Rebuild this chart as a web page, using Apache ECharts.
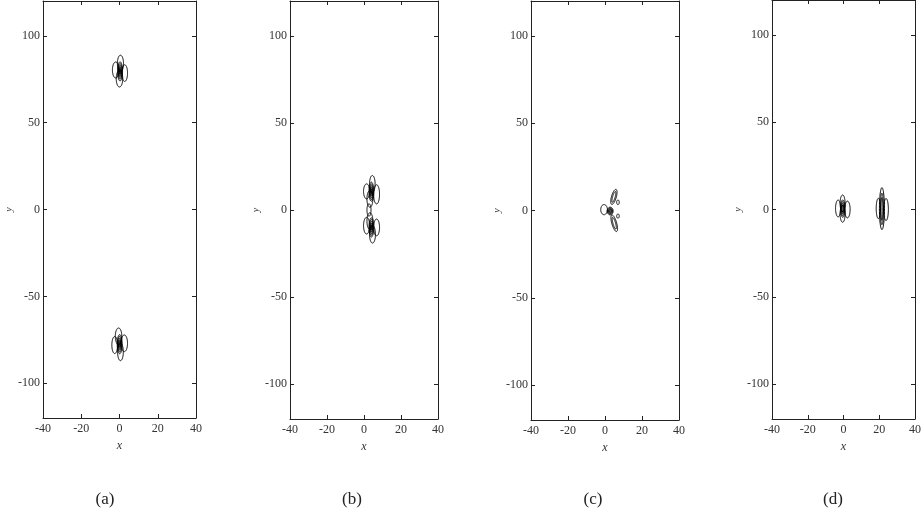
<!DOCTYPE html>
<html><head><meta charset="utf-8">
<script src="https://cdn.jsdelivr.net/npm/echarts@6/dist/echarts.min.js"></script>
<style>html,body{margin:0;padding:0;background:#fff}#c{width:924px;height:517px}</style>
</head><body><div id="c"></div><script>
// Axis ticks
const xTicks = [-40, -20, 0, 20, 40];
const yTicks = [-100, -50, 0, 50, 100];
const panelLabels = ['(a)', '(b)', '(c)', '(d)'];

// Contour curves, each as an ellipse: [cx, cy, rx, ry, tiltDeg]
const ellipsesA = [
  [0.5, 84, 1.6, 4.8, 0], [-2, 80.3, 1.7, 4.6, 0], [2.7, 78.5, 1.5, 4.8, 0], [0, 75.3, 1.7, 4.8, 0],
  [0.3, 79.5, 1.3, 5.5, 0], [0.3, 79.5, 1.0, 4.5, 0], [0.3, 79.5, 0.7, 3.5, 0], [0.3, 79.5, 0.45, 2.5, 0], [0.3, 79.5, 0.25, 1.5, 0],
  [-0.5, -73, 1.7, 4.8, 0], [-2.5, -78, 1.5, 4.9, 0], [2.5, -77, 1.7, 4.8, 0], [0.5, -82, 1.5, 5.0, 0],
  [0.1, -77.5, 1.3, 5.5, 0], [0.1, -77.5, 1.0, 4.5, 0], [0.1, -77.5, 0.7, 3.5, 0], [0.1, -77.5, 0.45, 2.5, 0], [0.1, -77.5, 0.25, 1.5, 0]
];
const ellipsesB = [
  [4.5, 15, 1.5, 4.8, 0], [1.4, 10.7, 1.65, 4.3, 0], [6.8, 9, 1.6, 5.5, 0], [3.2, 6.4, 1.6, 4.8, 0],
  [4, 10.5, 1.3, 5.5, 0], [4, 10.5, 1.0, 4.5, 0], [4, 10.5, 0.7, 3.5, 0], [4, 10.5, 0.45, 2.5, 0], [4, 10.5, 0.25, 1.5, 0],
  [2.7, 0, 1.1, 3.6, 0],
  [3.2, -6.4, 1.6, 4.8, 0], [1.4, -9, 1.65, 4.8, 0], [6.8, -10, 1.6, 4.8, 0], [4.6, -14, 1.6, 5.0, 0],
  [4, -10, 1.3, 5.5, 0], [4, -10, 1.0, 4.5, 0], [4, -10, 0.7, 3.5, 0], [4, -10, 0.45, 2.5, 0], [4, -10, 0.25, 1.5, 0]
];
const ellipsesC = [
  [-0.5, 0.5, 1.8, 2.9, 0],
  [2.8, -0.3, 1.6, 2.2, 0], [2.8, -0.3, 1.25, 1.75, 0], [2.8, -0.3, 0.95, 1.35, 0], [2.8, -0.3, 0.65, 0.95, 0], [2.8, -0.3, 0.35, 0.55, 0],
  [4.8, 7.8, 1.3, 4.45, -15], [4.8, 7.8, 0.7, 3.2, -15],
  [5.0, -7.3, 1.3, 4.9, 15], [5.0, -7.3, 0.7, 3.5, 15],
  [7, 4.7, 0.7, 1.3, 0], [7, -3.2, 0.7, 1.2, 0]
];
const ellipsesD = [
  [-3, 0.6, 1.45, 4.8, 0], [-0.5, 3.5, 1.4, 4.8, 0], [-0.5, -2.5, 1.4, 4.8, 0], [2.2, 0, 1.5, 4.8, 0],
  [-0.4, 0.5, 1.2, 5, 0], [-0.4, 0.5, 0.9, 4, 0], [-0.4, 0.5, 0.6, 3, 0], [-0.4, 0.5, 0.35, 2, 0],
  [21.5, 0.5, 1.4, 12, 0], [19.5, 0.6, 1.2, 5.8, 0], [23.8, 0, 1.3, 6.3, 0],
  [21.5, 0.3, 0.9, 9, 0], [21.5, 0.3, 0.5, 6.5, 0]
];
const panelData = [ellipsesA, ellipsesB, ellipsesC, ellipsesD];

// Layout (pixels)
const grids = [
  {left: 43, top: 1, width: 153, height: 417},
  {left: 290, top: 1, width: 148, height: 418},
  {left: 531, top: 1, width: 148, height: 419},
  {left: 772, top: 0, width: 146, height: 419}
];
const labelX = [105, 352, 593, 833];

const FONT = 'Liberation Serif';
const lineStyle = {color: '#222', width: 1};

function renderEllipse(params, api) {
  const cx = api.value(0), cy = api.value(1), rx = api.value(2), ry = api.value(3);
  const a = api.value(4) * Math.PI / 180;
  const pts = [];
  const N = 90;
  for (let k = 0; k < N; k++) {
    const t = k / N * 2 * Math.PI;
    const ex = rx * Math.cos(t), ey = ry * Math.sin(t);
    pts.push(api.coord([cx + ex * Math.cos(a) - ey * Math.sin(a), cy + ex * Math.sin(a) + ey * Math.cos(a)]));
  }
  return {type: 'polygon', shape: {points: pts}, style: {fill: 'none', stroke: '#000', lineWidth: 1}};
}

const option = {
  backgroundColor: '#fff', animation: false,
  grid: grids.map(g => Object.assign({containLabel: false}, g)),
  xAxis: [], yAxis: [], series: [],
  graphic: panelLabels.map((t, i) => ({
    type: 'text', x: labelX[i], y: 500, silent: true,
    style: {text: t, textAlign: 'center', textVerticalAlign: 'middle', font: '17px "' + FONT + '"', fill: '#222'}
  }))
};
grids.forEach((g, i) => {
  const xBase = {
    type: 'value', gridIndex: i, min: -40, max: 40, interval: 20,
    axisLine: {show: true, onZero: false, lineStyle},
    axisTick: {show: true, inside: true, length: 4, lineStyle, customValues: xTicks},
    splitLine: {show: false}
  };
  option.xAxis.push(Object.assign({}, xBase, {
    position: 'bottom', name: 'x', nameLocation: 'middle', nameGap: 21,
    nameTextStyle: {fontFamily: FONT, fontStyle: 'italic', fontSize: 12, color: '#333'},
    axisLabel: {show: true, margin: 5, fontFamily: FONT, fontSize: 12, color: '#333', customValues: xTicks}
  }));
  option.xAxis.push(Object.assign({}, xBase, {position: 'top', axisLabel: {show: false}}));
  const yBase = {
    type: 'value', gridIndex: i, min: -120, max: 120,
    axisLine: {show: true, onZero: false, lineStyle},
    axisTick: {show: true, inside: true, length: 4, lineStyle, customValues: yTicks},
    splitLine: {show: false}
  };
  option.yAxis.push(Object.assign({}, yBase, {
    position: 'left', name: 'y', nameLocation: 'middle', nameGap: 21,
    nameTextStyle: {fontFamily: FONT, fontStyle: 'italic', fontSize: 10, color: '#333'},
    axisLabel: {show: true, margin: 3, fontFamily: FONT, fontSize: 12, color: '#333', customValues: yTicks}
  }));
  option.yAxis.push(Object.assign({}, yBase, {position: 'right', axisLabel: {show: false}}));
  option.series.push({
    type: 'custom', coordinateSystem: 'cartesian2d', xAxisIndex: 2 * i, yAxisIndex: 2 * i,
    data: panelData[i], renderItem: renderEllipse, silent: true
  });
});

const chart = echarts.init(document.getElementById('c'), null, {renderer: 'canvas'});
chart.setOption(option);
</script></body></html>
